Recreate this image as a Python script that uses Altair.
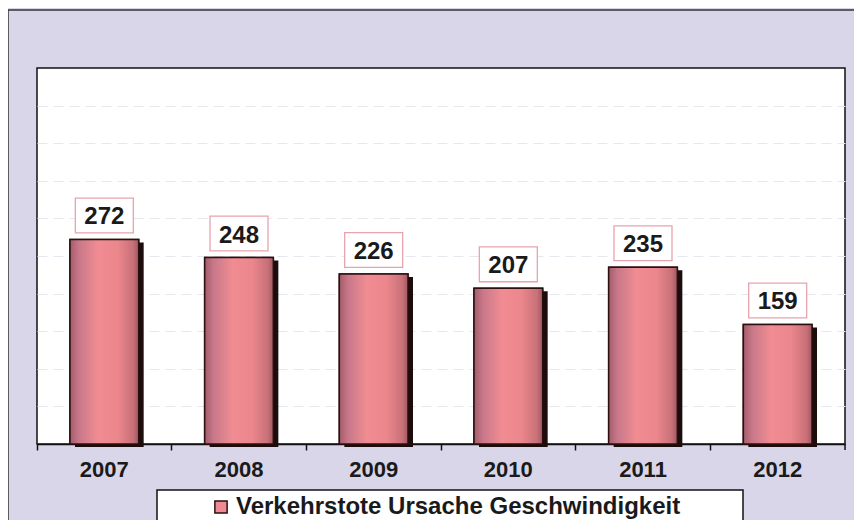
import altair as alt
import pandas as pd

years = ["2007", "2008", "2009", "2010", "2011", "2012"]
values = [272, 248, 226, 207, 235, 159]
series_name = "Verkehrstote Ursache Geschwindigkeit"

df = pd.DataFrame({"year": years, "value": values, "series": [series_name] * len(years)})

FONT = "Liberation Sans"
W, H = 808, 376

x_enc = alt.X("year:N", sort=years, title=None,
              scale=alt.Scale(paddingInner=0, paddingOuter=0),
              axis=alt.Axis(labelAngle=0, bandPosition=0, labelFont=FONT, labelFontSize=22,
                            labelFontWeight="bold", labelColor="#1a1a1a", labelPadding=9,
                            tickSize=6, tickColor="#111", tickWidth=1.5,
                            domainColor="#111", domainWidth=1.5, grid=False))
y_enc = alt.Y("value:Q", title=None,
              scale=alt.Scale(domain=[0, 500], nice=False),
              axis=alt.Axis(values=list(range(50, 500, 50)), labels=False, ticks=False,
                            domain=False, grid=True, gridColor="#e6e6ee", gridDash=[10, 6],
                            gridWidth=1))

base = alt.Chart(df)

legend_bars = base.mark_bar(width=alt.RelativeBandSize(0.51), stroke="#2a1010",
                            strokeWidth=1.5).encode(
    x=x_enc, y=y_enc,
    color=alt.Color("series:N", scale=alt.Scale(range=["#f08a92"]),
                    legend=alt.Legend(title=None, orient="none", legendX=172, legendY=427,
                                      symbolType="square", symbolSize=150,
                                      symbolStrokeColor="#2a1010", symbolStrokeWidth=1.5,
                                      symbolOpacity=1,
                                      labelFont=FONT, labelFontSize=24,
                                      labelFontWeight="bold", labelColor="#1a1a1a",
                                      labelOffset=3, padding=0, labelLimit=800))
)

shadow = base.mark_bar(width=alt.RelativeBandSize(0.51), xOffset=5, yOffset=3,
                       color="#1c0c0c").encode(x=x_enc, y=y_enc)

grad = alt.Gradient(gradient="linear", x1=0, x2=1, y1=0, y2=0, stops=[
    alt.GradientStop(offset=0, color="#a45c6a"),
    alt.GradientStop(offset=0.13, color="#c8788a"),
    alt.GradientStop(offset=0.4, color="#f08c92"),
    alt.GradientStop(offset=0.7, color="#ea868c"),
    alt.GradientStop(offset=0.92, color="#c87078"),
    alt.GradientStop(offset=1, color="#a05860"),
])

bars = base.mark_bar(width=alt.RelativeBandSize(0.51), fill=grad, stroke="#2a1010",
                     strokeWidth=1.5).encode(x=x_enc, y=y_enc)

box_path = "M-1,-0.6L1,-0.6L1,0.6L-1,0.6Z"
boxes = base.mark_point(shape=box_path, size=58 * 58, filled=True, fill="white",
                        stroke="#e8a4ae", strokeWidth=1.3, opacity=1,
                        yOffset=-24).encode(x=x_enc, y=y_enc)

labels = base.mark_text(font=FONT, fontSize=24, fontWeight="bold", color="#1a1a1a",
                        baseline="alphabetic", dy=-15).encode(
    x=x_enc, y=y_enc, text="value:Q")

last_tick = alt.Chart(alt.Data(values=[{}])).mark_rule(color="#111", strokeWidth=1.5).encode(
    x=alt.value(W), y=alt.value(H), y2=alt.value(H + 6))

legend_box = alt.Chart(alt.Data(values=[{}])).mark_rect(fill="white", stroke="#111",
                                                       strokeWidth=1.5).encode(
    x=alt.value(120), x2=alt.value(706), y=alt.value(422), y2=alt.value(470))

frame_top = alt.Chart(alt.Data(values=[{}])).mark_rule(color="#333", strokeWidth=1.5).encode(
    x=alt.value(-29), x2=alt.value(W + 20), y=alt.value(-58))
frame_left = alt.Chart(alt.Data(values=[{}])).mark_rule(color="#333", strokeWidth=1.5).encode(
    x=alt.value(-29), y=alt.value(-58), y2=alt.value(H + 84))

chart = alt.layer(frame_top, frame_left, legend_bars, shadow, bars, boxes, labels, last_tick,
                  legend_box).properties(
    width=W, height=H,
    background="#d9d6e9",
    padding={"left": 29, "top": 60, "right": 9, "bottom": 76},
    autosize=alt.AutoSizeParams(type="none"),
).configure_view(stroke="#111", strokeWidth=1.5, fill="white")

chart.save("out.html", embed_options={"renderer": "svg", "actions": False})
